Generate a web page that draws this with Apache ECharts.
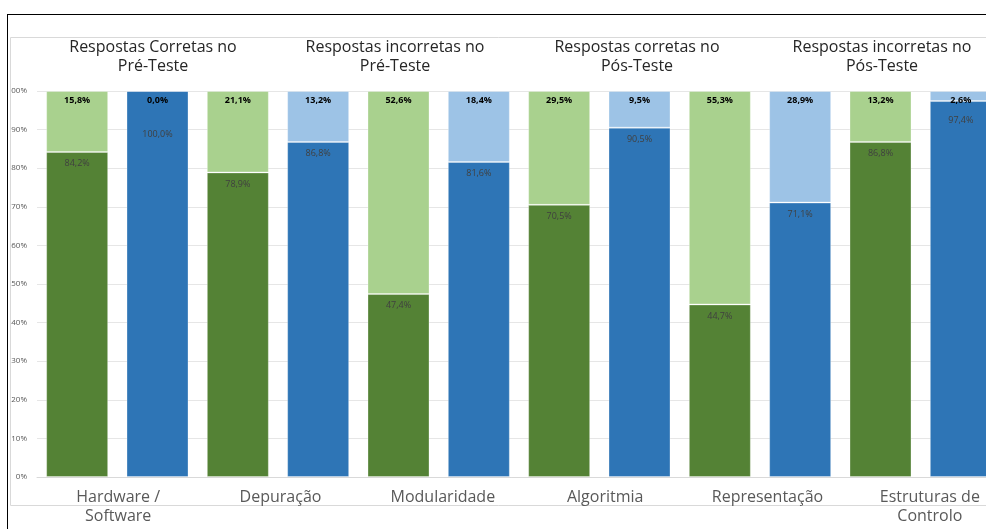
<!DOCTYPE html>
<html><head><meta charset="utf-8">
<script src="https://cdn.jsdelivr.net/npm/echarts@6/dist/echarts.min.js"></script>
<style>
html,body{margin:0;padding:0;background:#fff;width:986px;height:529px;overflow:hidden}
#frame{position:absolute;left:7px;top:14px;right:-5px;bottom:-5px;border-top:1px solid #000;border-left:1px solid #000}
#chart{position:absolute;left:10px;top:0;width:976px;height:529px}
</style></head><body>
<div id="frame"></div><div id="chart"></div>
<script>
const topics = ['Hardware /\nSoftware', 'Depuração', 'Modularidade', 'Algoritmia', 'Representação', 'Estruturas de\nControlo'];
const seriesNames = ['Respostas Corretas no\nPré-Teste', 'Respostas incorretas no\nPré-Teste', 'Respostas corretas no\nPós-Teste', 'Respostas incorretas no\nPós-Teste'];
const preCorrect    = [84.2, 78.9, 47.4, 70.5, 44.7, 86.8];
const preIncorrect  = [15.8, 21.1, 52.6, 29.5, 55.3, 13.2];
const postCorrect   = [100.0, 86.8, 81.6, 90.5, 71.1, 97.4];
const postIncorrect = [0.0, 13.2, 18.4, 9.5, 28.9, 2.6];

const colors = ['#548235', '#A9D18E', '#2E75B6', '#9DC3E6'];
const headerX = [143, 385, 627, 872];
const labelNudge = {0: 32, 5: 8}; // manual label moves on the post-test correct bars

const slots = topics.flatMap(t => [t + ' (Pré)', t + ' (Pós)']);
function spread(arr, offset, nudge) {
  const out = [];
  arr.forEach((v, i) => {
    const item = {value: v};
    if (nudge && nudge[i]) item.label = {offset: [0, nudge[i]]};
    if (offset === 0) { out.push(item, '-'); } else { out.push('-', item); }
  });
  return out;
}
const fmt = p => p.value.toFixed(1).replace('.', ',') + '%';
const FONT = '"Open Sans", "Noto Sans", sans-serif';

const seriesData = [
  spread(preCorrect, 0), spread(preIncorrect, 0),
  spread(postCorrect, 1, labelNudge), spread(postIncorrect, 1)
];

const series = seriesData.map((d, k) => ({
  name: seriesNames[k],
  type: 'bar',
  stack: 'all',
  xAxisIndex: 0, yAxisIndex: 0,
  barWidth: 62,
  data: d,
  itemStyle: {color: colors[k], borderColor: 'rgba(255,255,255,0.3)', borderWidth: 1},
  label: {
    show: true,
    position: 'insideTop',
    distance: k % 2 === 0 ? 7 : 5,
    formatter: fmt,
    fontFamily: FONT,
    fontSize: 9,
    fontWeight: k % 2 === 0 ? 'normal' : 'bold',
    color: k % 2 === 0 ? '#404040' : '#000000'
  }
}));

const graphics = [
  {type: 'line', shape: {x1: 0.5, y1: 37.5, x2: 976, y2: 37.5}, style: {stroke: '#d9d9d9', lineWidth: 1}, z: -1},
  {type: 'line', shape: {x1: 0.5, y1: 37.5, x2: 0.5, y2: 505.5}, style: {stroke: '#d9d9d9', lineWidth: 1}, z: -1},
  {type: 'line', shape: {x1: 0.5, y1: 505.5, x2: 976, y2: 505.5}, style: {stroke: '#d9d9d9', lineWidth: 1}, z: -1}
].concat(seriesNames.map((n, i) => ({
  type: 'text', x: headerX[i], y: 38,
  style: {text: n, fontFamily: FONT, fontSize: 16, lineHeight: 19, fill: '#262626', align: 'center', verticalAlign: 'top'}
})));

const chart = echarts.init(document.getElementById('chart'), null, {renderer: 'canvas'});
chart.setOption({
  animation: false,
  backgroundColor: 'transparent',
  legend: {show: false},
  grid: [
    {left: 27, width: 964, top: 91, bottom: 52, outerBoundsMode: 'none', containLabel: false},
    {left: 27, width: 974, top: 91, bottom: 52, outerBoundsMode: 'none', containLabel: false}
  ],
  xAxis: [
    {type: 'category', gridIndex: 0, data: slots,
     axisLine: {show: true, lineStyle: {color: '#d9d9d9'}}, axisTick: {show: false}, axisLabel: {show: false}},
    {type: 'category', gridIndex: 1, data: topics,
     axisLine: {show: false}, axisTick: {show: false}, splitLine: {show: false},
     axisLabel: {show: true, interval: 0, margin: 11, fontFamily: FONT, fontSize: 16, lineHeight: 19, color: '#595959'}}
  ],
  yAxis: [
    {type: 'value', gridIndex: 0, min: 0, max: 100, interval: 10,
     axisLine: {show: false}, axisTick: {show: false},
     splitLine: {show: true, lineStyle: {color: '#e6e6e6', width: 1}},
     axisLabel: {formatter: '{value}%', fontFamily: FONT, fontSize: 8, color: '#595959', margin: 10}},
    {type: 'value', gridIndex: 1, min: 0, max: 100, show: false, splitLine: {show: false}}
  ],
  graphic: graphics,
  series: series
});
</script>
</body></html>
